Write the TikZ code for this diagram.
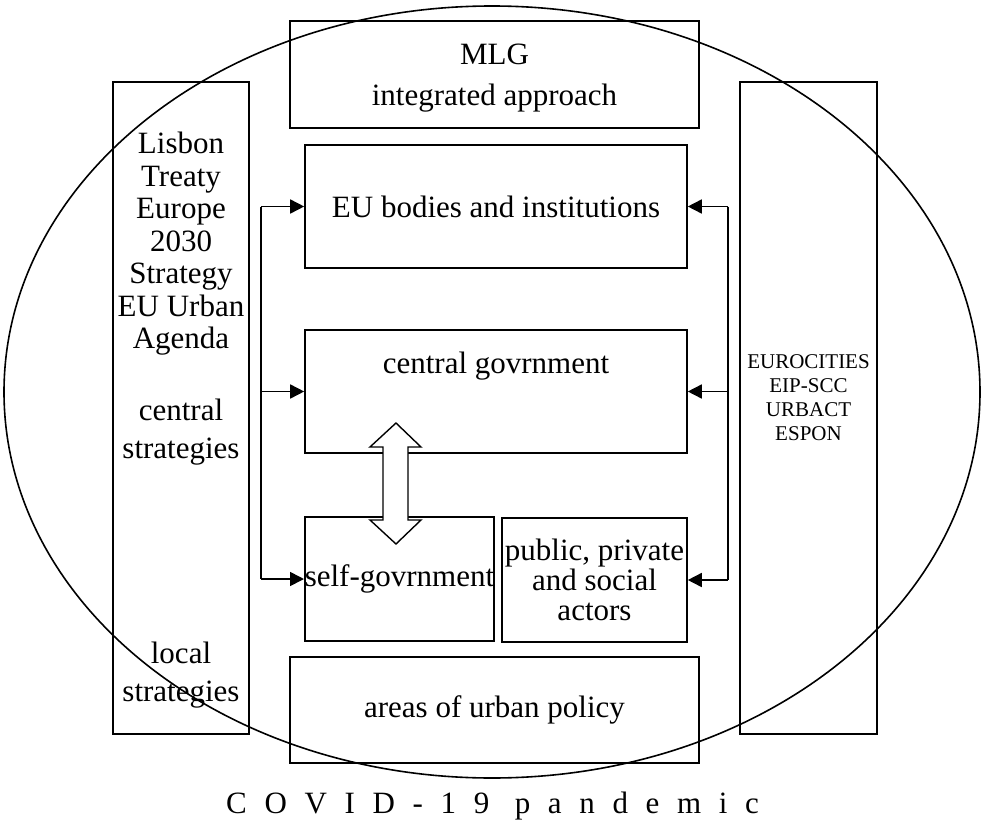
\documentclass[tikz,border=0pt]{standalone}
\usepackage{fontspec}
\setmainfont{Liberation Serif}
\usetikzlibrary{arrows.meta}
\begin{document}
\begin{tikzpicture}[x=1pt,y=-1pt,
  box/.style={draw, line width=1.6pt, inner sep=0pt},
  txt/.style={font=\fontsize{31}{35}\selectfont, align=center, inner sep=0pt},
  smalltxt/.style={font=\fontsize{21}{24}\selectfont, align=center, inner sep=0pt},
  arr/.style={line width=1.6pt, -{Triangle[length=14pt,width=14pt]}},
  trunk/.style={line width=1.6pt}
]
\useasboundingbox (0,0) rectangle (983,827);

% side boxes
\node[box, minimum width=136pt, minimum height=652pt] (lbox) at (181,408) {};
\node[box, minimum width=137pt, minimum height=652pt] (rbox) at (808.5,408) {};

% central boxes
\node[box, minimum width=409pt, minimum height=107pt] (mlg) at (494.5,74.5) {};
\node[txt, font=\fontsize{31}{41}\selectfont] (mlgt) at (494.5,78) {MLG\\integrated approach};
\node[box, minimum width=382pt, minimum height=123pt, txt] (eu) at (496,206.5) {EU bodies and institutions};
\node[box, minimum width=382pt, minimum height=123pt] (cg) at (496,391.5) {};
\node[txt] (cgt) at (496,366) {central govrnment};
\node[box, minimum width=189pt, minimum height=124pt, txt] (sg) at (399.5,579) {self-govrnment};
\node[box, minimum width=185pt, minimum height=124pt, txt, font=\fontsize{31}{30}\selectfont] (pp) at (594.5,580) {public, private\\and social\\actors};
\node[box, minimum width=409pt, minimum height=106pt, txt] (au) at (494.5,710) {areas of urban policy};

% left texts
\node[txt, font=\fontsize{31}{32.5}\selectfont] (lt1) at (181,244) {Lisbon\\Treaty\\Europe\\2030\\Strategy\\EU Urban\\Agenda};
\node[txt, font=\fontsize{31}{38}\selectfont] (lt2) at (181,432) {central\\strategies};
\node[txt, font=\fontsize{31}{38}\selectfont] (lt3) at (181,675) {local\\strategies};

% right texts
\node[smalltxt] (rt) at (808.5,398) {EUROCITIES\\EIP-SCC\\URBACT\\ESPON};

% connectors
\coordinate (lc) at (261,0);
\coordinate (rc) at (728,0);
\draw[trunk] (lc |- eu.west) -- (lc |- sg.west);
\draw[arr] (lc |- eu.west) -- (eu.west);
\draw[arr] (lc |- cg.west) -- (cg.west);
\draw[arr] (lc |- sg.west) -- (sg.west);
\draw[trunk] (rc |- eu.east) -- (rc |- pp.east);
\draw[arr] (rc |- eu.east) -- (eu.east);
\draw[arr] (rc |- cg.east) -- (cg.east);
\draw[arr] (rc |- pp.east) -- (pp.east);

% double arrow
\draw[line width=1.4pt, fill=white] (396,423) -- (421,447) -- (408,447) -- (408,520) -- (421,520) -- (396,544) -- (370,520) -- (383,520) -- (383,447) -- (370,447) -- cycle;

% ellipse
\draw[line width=1.6pt] (492,392) ellipse [x radius=488, y radius=386];

% caption
\node[anchor=base west, inner sep=0pt, font=\fontsize{31}{34}\selectfont\addfontfeature{LetterSpace=57}] (covid) at (226,813) {COVID-19 pandemic};
\end{tikzpicture}
\end{document}
